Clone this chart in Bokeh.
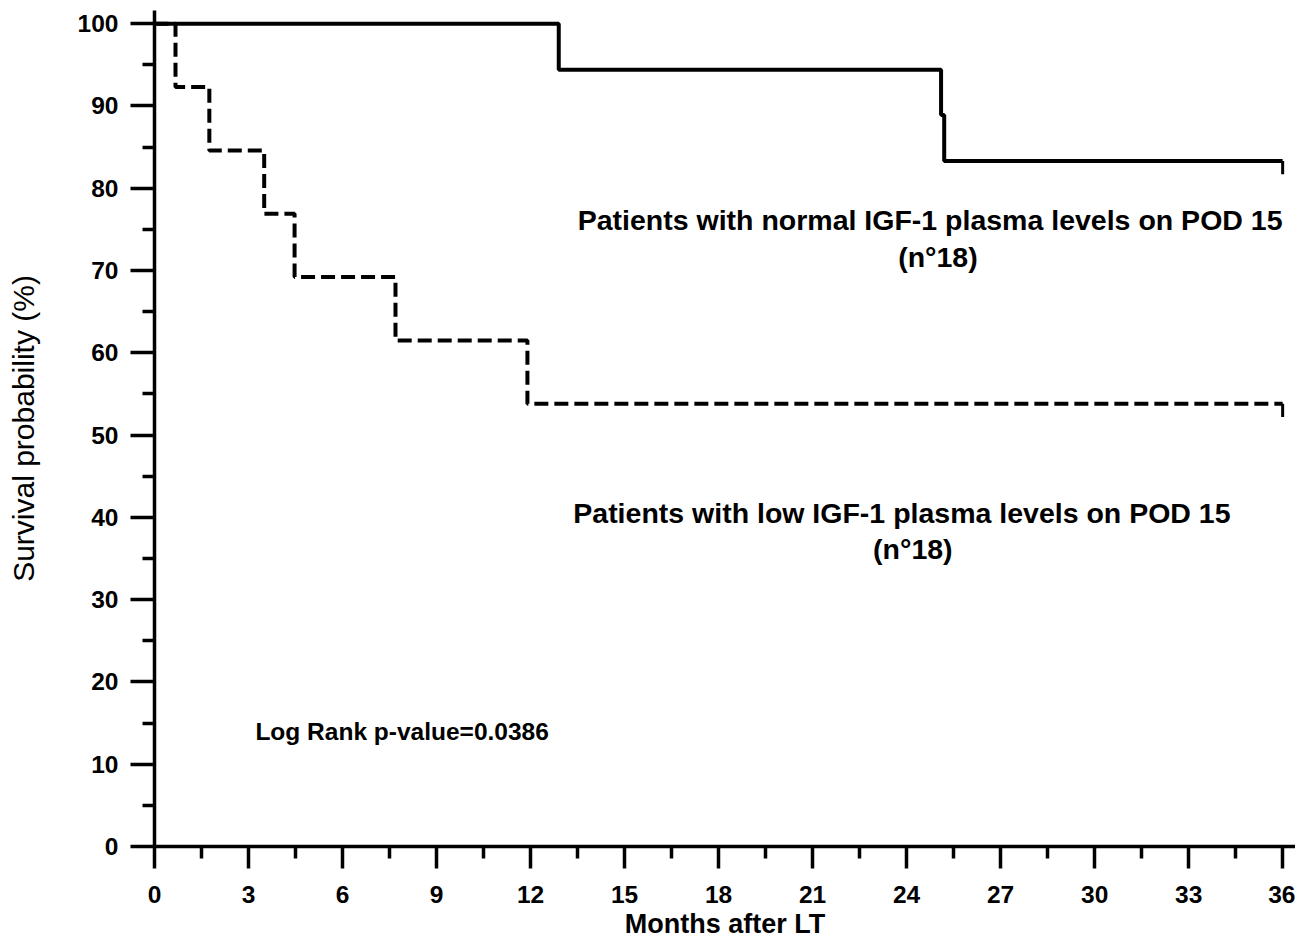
from bokeh.plotting import figure
from bokeh.models import Range1d, FixedTicker, ColumnDataSource
from bokeh.core.properties import value
from bokeh.embed import file_html
from bokeh.resources import INLINE

# Kaplan-Meier data (months, survival %)
normal_t = [0, 12.9, 25.1, 25.2, 36]
normal_s = [100, 94.4, 88.9, 83.3, 83.3]
low_t = [0, 0.67, 1.75, 3.5, 4.47, 7.69, 11.9, 36]
low_s = [100, 92.3, 84.6, 76.9, 69.2, 61.5, 53.8, 53.8]

x_ticks = list(range(0, 37, 3))
x_minor = [t + 1.5 for t in range(0, 36, 3)]
y_ticks = list(range(0, 101, 10))
y_minor = [t + 5 for t in range(0, 100, 10)]

FONT = "Liberation Sans"

p = figure(width=1295, height=941, output_backend="svg", toolbar_location=None,
           x_range=Range1d(0, 36.41), y_range=Range1d(0, 101.6),
           min_border_left=154, min_border_right=0, min_border_top=10, min_border_bottom=95)
p.outline_line_color = None
p.grid.grid_line_color = None
p.background_fill_color = "white"
p.border_fill_color = "white"

for ax in (p.xaxis[0], p.yaxis[0]):
    ax.axis_line_width = 3.5
    ax.major_tick_line_width = 3.5
    ax.minor_tick_line_width = 3.5
    ax.major_tick_in = 0
    ax.minor_tick_in = 0
    ax.major_label_text_font = FONT
    ax.major_label_text_font_style = "bold"
    ax.major_label_text_font_size = "24.5px"
    ax.major_label_text_color = "black"
    ax.axis_label_text_font = FONT
    ax.axis_label_text_color = "black"

p.xaxis[0].ticker = FixedTicker(ticks=x_ticks, minor_ticks=x_minor)
p.xaxis[0].major_tick_out = 22
p.xaxis[0].minor_tick_out = 12
p.xaxis[0].major_label_standoff = 17
p.xaxis[0].axis_label = "Months after LT"
p.xaxis[0].axis_label_text_font_style = "bold"
p.xaxis[0].axis_label_text_font_size = "27px"
p.xaxis[0].axis_label_standoff = 3

p.yaxis[0].ticker = FixedTicker(ticks=y_ticks, minor_ticks=y_minor)
p.yaxis[0].major_tick_out = 24
p.yaxis[0].minor_tick_out = 12
p.yaxis[0].major_label_standoff = 12
p.yaxis[0].axis_label = "Survival probability (%)"
p.yaxis[0].axis_label_text_font_style = "normal"
p.yaxis[0].axis_label_text_font_size = "30px"
p.yaxis[0].axis_label_standoff = 35

p.step(normal_t, normal_s, mode="after", line_color="black", line_width=4)
p.step(low_t, low_s, mode="after", line_color="black", line_width=4, line_dash="14 6")

# censor ticks at end of follow-up
tick_len = 1.6
cens = ColumnDataSource(dict(x=[normal_t[-1], low_t[-1]], y0=[normal_s[-1], low_s[-1]],
                             y1=[normal_s[-1] - tick_len, low_s[-1] - tick_len]))
p.segment(x0="x", y0="y0", x1="x", y1="y1", source=cens, line_color="black", line_width=3)

def label(x, y, txt, size, align="center"):
    p.text(x=[x], y=[y], text=[txt], text_font=value(FONT), text_font_style="bold",
           text_font_size=size, text_align=align, text_baseline="middle", text_color="black")

label(24.75, 76.1, "Patients with normal IGF-1 plasma levels on POD 15", "28.5px")
label(25.0, 71.7, "(n°18)", "28.5px")
label(23.85, 40.5, "Patients with low IGF-1 plasma levels on POD 15", "28.5px")
label(24.2, 36.2, "(n°18)", "28.5px")
label(3.22, 14.0, "Log Rank p-value=0.0386", "24.5px", align="left")

open("out.html", "w").write(file_html(p, INLINE))
